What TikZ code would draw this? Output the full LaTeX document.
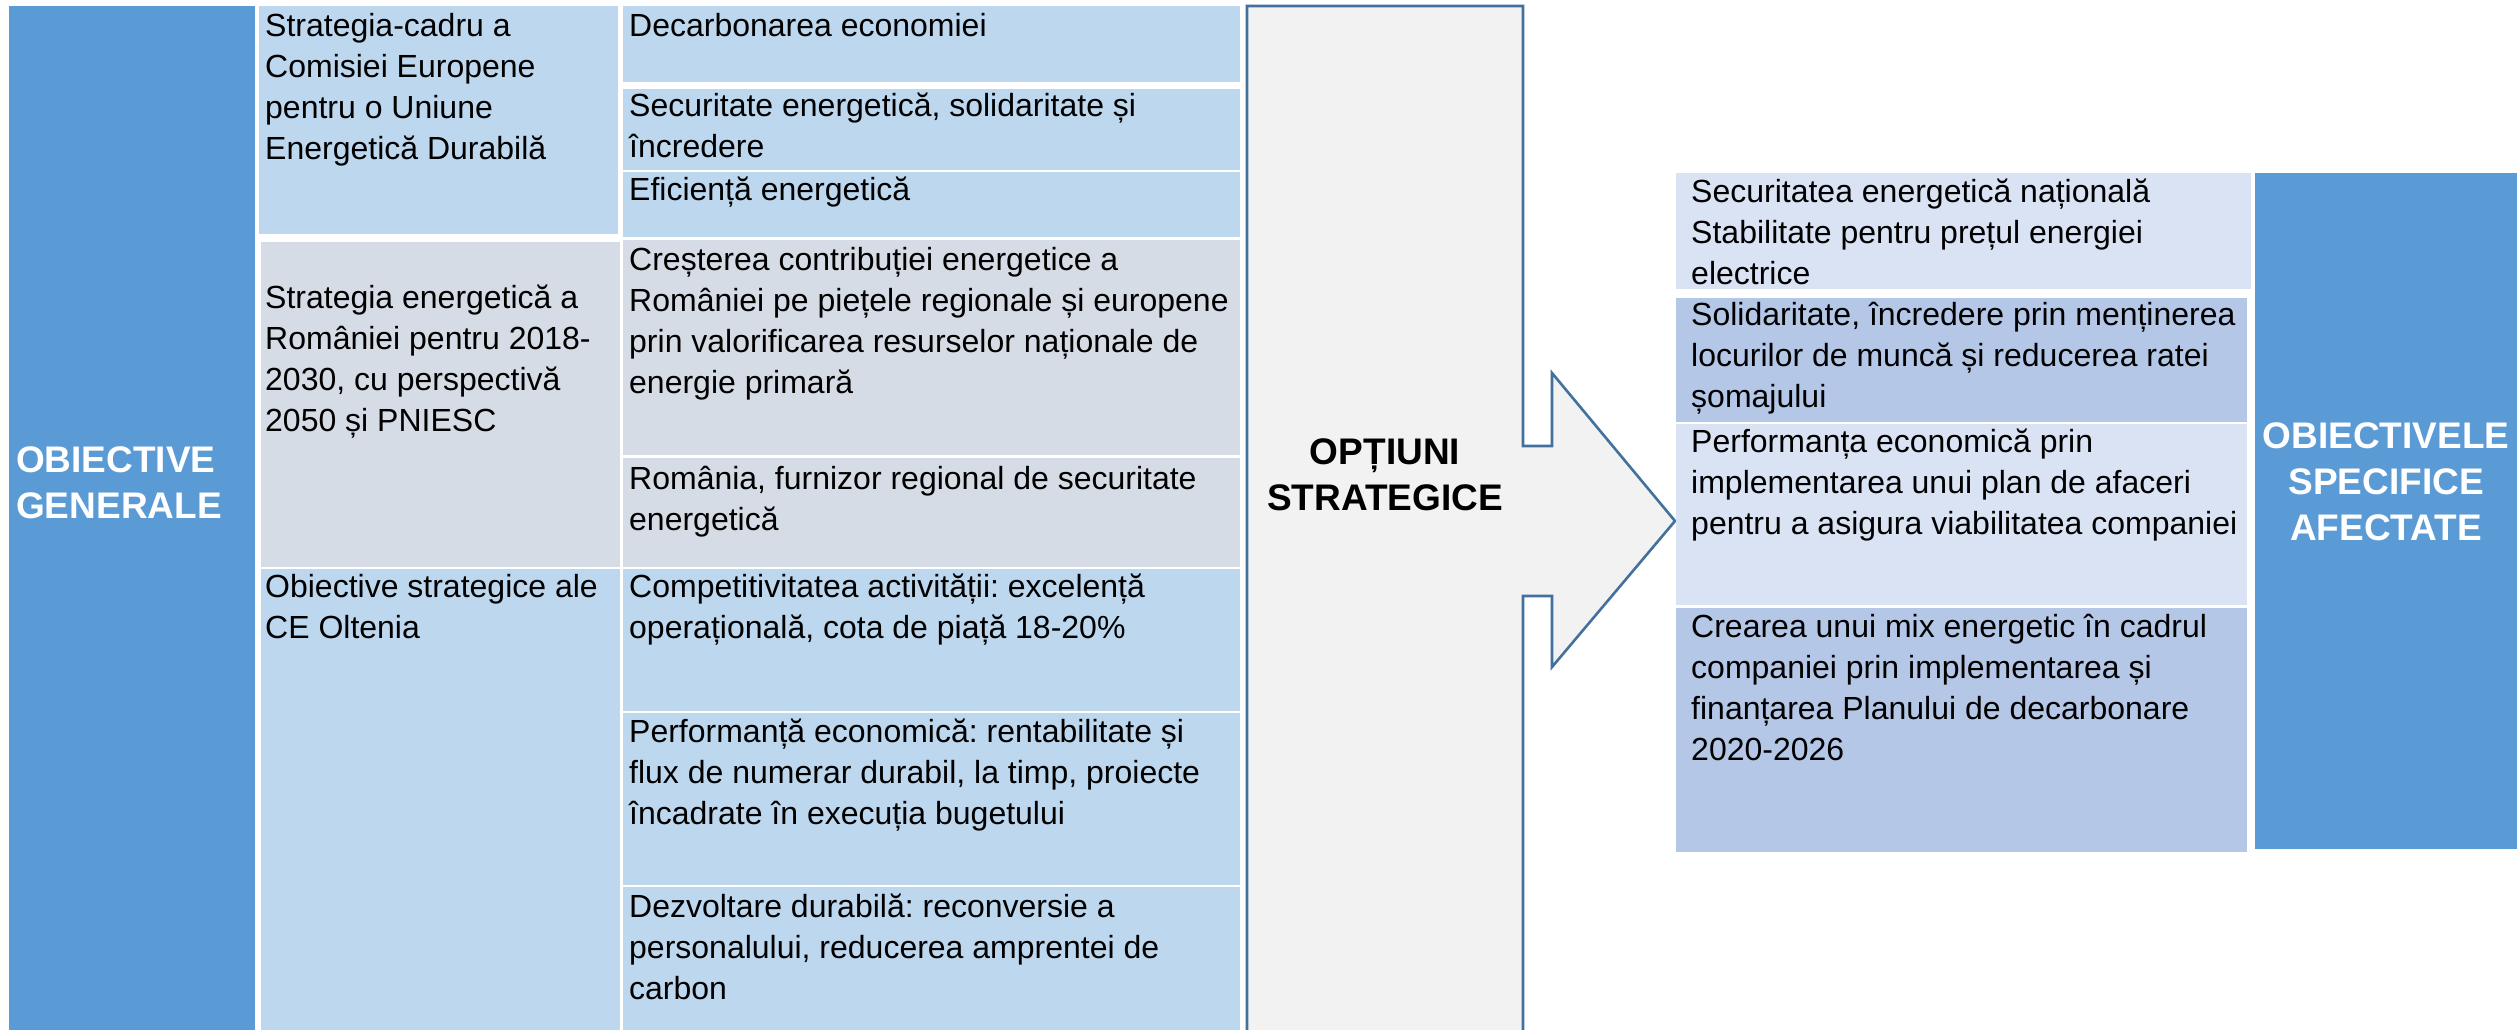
\documentclass[tikz,border=0pt]{standalone}
\usepackage{fontspec}
\setmainfont{Liberation Sans}
\definecolor{gblue}{HTML}{5B9BD5}
\definecolor{lblue}{HTML}{BDD7EE}
\definecolor{lgray}{HTML}{D6DCE5}
\definecolor{rlight}{HTML}{DAE3F3}
\definecolor{rmed}{HTML}{B4C7E7}
\definecolor{optfill}{HTML}{F2F2F2}
\definecolor{optline}{HTML}{41719C}
\newcommand{\cl}[1]{\begin{tabular}[t]{@{}l@{}}#1\end{tabular}}
\newcommand{\cc}[1]{\begin{tabular}[t]{@{}c@{}}#1\end{tabular}}
\begin{document}
\frenchspacing
\begin{tikzpicture}[x=1pt,y=-1pt,
  txt/.style={anchor=base west, inner sep=0pt, font=\fontsize{32}{41}\selectfont, text=black},
  big/.style={inner sep=0pt, font=\fontsize{37}{46}\selectfont\bfseries, text=white},
  optshape/.style={fill=optfill, draw=optline, line width=2.6pt, line join=miter}]
\useasboundingbox (0,0) rectangle (2517,1029);
\clip (0,0) rectangle (2517,1029);
\fill[white] (0,0) rectangle (2517,1029);
% left column
\fill[gblue] (9,6) rectangle (255,1040);
% column 2
\fill[lblue] (259,6) rectangle (618,234);
\fill[lgray] (261,242) rectangle (620,567);
\fill[lblue] (261,569) rectangle (620,1040);
% column 3
\fill[lblue] (623,6) rectangle (1240,82);
\fill[lblue] (623,89) rectangle (1240,170);
\fill[lblue] (623,172) rectangle (1240,237);
\fill[lgray] (623,240) rectangle (1240,455);
\fill[lgray] (623,458) rectangle (1240,567);
\fill[lblue] (623,569) rectangle (1240,711);
\fill[lblue] (623,713) rectangle (1240,885);
\fill[lblue] (623,887) rectangle (1240,1040);
% options callout arrow
\path[optshape] (1247,1045) -- (1247,6) -- (1523,6) -- (1523,446) -- (1552,446) -- (1552,373)
  -- (1675,521) -- (1552,667) -- (1552,596) -- (1523,596) -- (1523,1045);
% right column
\fill[rlight] (1676,173) rectangle (2251,289);
\fill[rmed] (1676,298) rectangle (2247,422);
\fill[rlight] (1676,424) rectangle (2247,605);
\fill[rmed] (1676,608) rectangle (2247,852);
\fill[gblue] (2255,173) rectangle (2517,849);

% bold titles
\node[big, anchor=base west] (og) at (16,472) {\cl{OBIECTIVE\\GENERALE}};
\node[big, anchor=base, text=black] (os) at (1385,464) {\cc{OPȚIUNI\\STRATEGICE}};
\node[big, anchor=base] (osa) at (2386,448) {\cc{OBIECTIVELE\\SPECIFICE\\AFECTATE}};

% column 2 texts
\node[txt] (c21) at (265,36) {\cl{Strategia-cadru a\\Comisiei Europene\\pentru o Uniune\\Energetică Durabilă}};
\node[txt] (c22) at (265,308) {\cl{Strategia energetică a\\României pentru 2018-\\2030, cu perspectivă\\2050 și PNIESC}};
\node[txt] (c23) at (265,597) {\cl{Obiective strategice ale\\CE Oltenia}};

% column 3 texts
\node[txt] (c31) at (629,36) {\cl{Decarbonarea economiei}};
\node[txt] (c32) at (629,116) {\cl{Securitate energetică, solidaritate și\\încredere}};
\node[txt] (c33) at (629,200) {\cl{Eficiență energetică}};
\node[txt] (c34) at (629,270) {\cl{Creșterea contribuției energetice a\\României pe piețele regionale și europene\\prin valorificarea resurselor naționale de\\energie primară}};
\node[txt] (c35) at (629,489) {\cl{România, furnizor regional de securitate\\energetică}};
\node[txt] (c36) at (629,597) {\cl{Competitivitatea activității: excelență\\operațională, cota de piață 18-20\%}};
\node[txt] (c37) at (629,742) {\cl{Performanță economică: rentabilitate și\\flux de numerar durabil, la timp, proiecte\\încadrate în execuția bugetului}};
\node[txt] (c38) at (629,917) {\cl{Dezvoltare durabilă: reconversie a\\personalului, reducerea amprentei de\\carbon}};

% right texts
\node[txt] (r1) at (1691,202) {\cl{Securitatea energetică națională\\Stabilitate pentru prețul energiei\\electrice}};
\node[txt] (r2) at (1691,325) {\cl{Solidaritate, încredere prin menținerea\\locurilor de muncă și reducerea ratei\\șomajului}};
\node[txt] (r3) at (1691,452) {\cl{Performanța economică prin\\implementarea unui plan de afaceri\\pentru a asigura viabilitatea companiei}};
\node[txt] (r4) at (1691,637) {\cl{Crearea unui mix energetic în cadrul\\companiei prin implementarea și\\finanțarea Planului de decarbonare\\2020-2026}};
\end{tikzpicture}
\end{document}
